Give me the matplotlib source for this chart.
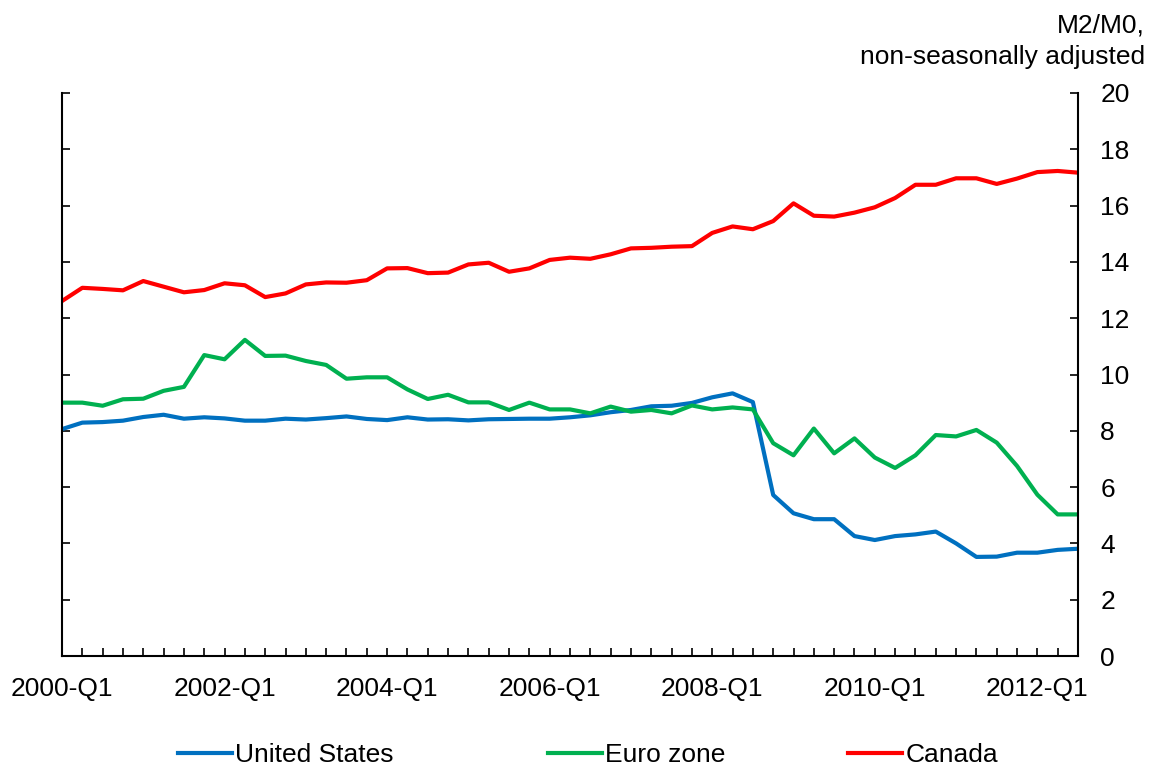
import matplotlib.pyplot as plt
import numpy as np

plt.rcParams['font.family'] = ['Liberation Sans', 'DejaVu Sans']

# quarters 2000-Q1 .. 2012-Q3
quarters = [f"{2000 + i // 4}-Q{i % 4 + 1}" for i in range(51)]

united_states = [8.06, 8.29, 8.31, 8.36, 8.49, 8.57, 8.43, 8.48, 8.44, 8.36,
                 8.36, 8.43, 8.40, 8.45, 8.51, 8.42, 8.38, 8.48, 8.40, 8.41,
                 8.37, 8.41, 8.42, 8.43, 8.43, 8.48, 8.55, 8.66, 8.74, 8.87,
                 8.89, 8.99, 9.19, 9.33, 9.02, 5.72, 5.07, 4.86, 4.86, 4.26,
                 4.12, 4.26, 4.32, 4.42, 4.00, 3.52, 3.53, 3.67, 3.67, 3.77,
                 3.81]

euro_zone = [9.00, 9.00, 8.89, 9.12, 9.14, 9.42, 9.56, 10.69, 10.54, 11.23,
             10.66, 10.67, 10.48, 10.34, 9.85, 9.90, 9.90, 9.47, 9.13, 9.28,
             9.01, 9.01, 8.74, 9.00, 8.76, 8.76, 8.62, 8.86, 8.68, 8.74,
             8.62, 8.90, 8.76, 8.83, 8.76, 7.56, 7.13, 8.08, 7.20, 7.73,
             7.05, 6.68, 7.13, 7.85, 7.80, 8.03, 7.58, 6.75, 5.73, 5.03,
             5.03]

canada = [12.61, 13.08, 13.04, 12.99, 13.32, 13.12, 12.92, 13.00, 13.24, 13.17,
          12.75, 12.88, 13.20, 13.27, 13.26, 13.35, 13.77, 13.78, 13.60, 13.62,
          13.91, 13.97, 13.65, 13.77, 14.07, 14.15, 14.11, 14.27, 14.48, 14.50,
          14.54, 14.56, 15.03, 15.26, 15.16, 15.45, 16.08, 15.64, 15.61, 15.75,
          15.94, 16.27, 16.74, 16.74, 16.97, 16.97, 16.77, 16.96, 17.19, 17.23,
          17.17]

x = np.arange(len(quarters))

fig = plt.figure(figsize=(11.52, 7.68), dpi=100)
ax = fig.add_axes([62 / 1152, 1 - 656 / 768, (1078 - 62) / 1152, (656 - 93) / 768])

lw = 3.0
l1, = ax.plot(x, united_states, color='#0070C0', lw=lw, label='United States')
l2, = ax.plot(x, euro_zone, color='#00B050', lw=lw, label='Euro zone')
l3, = ax.plot(x, canada, color='#FF0000', lw=lw, label='Canada')

ax.set_xlim(0, len(quarters) - 1)
ax.set_ylim(0, 20)
ax.set_yticks(range(0, 21, 2))
ax.set_xticks(x)
ax.set_xticklabels([q if i % 8 == 0 else '' for i, q in enumerate(quarters)])

ax.spines['top'].set_visible(False)
for s in ['left', 'right', 'bottom']:
    ax.spines[s].set_linewidth(1.5)

ax.tick_params(axis='y', direction='in', left=True, right=True,
               labelleft=False, labelright=True, length=6, width=1.2,
               labelsize=19, pad=16)
ax.tick_params(axis='x', direction='in', length=5.5, width=1.2,
               labelsize=19, pad=15)

# unit label, right aligned above the right axis
fig.text(1145 / 1152, 1 - 32 / 768, 'M2/M0,', ha='right', va='baseline', fontsize=19)
fig.text(1145 / 1152, 1 - 64 / 768, 'non-seasonally adjusted', ha='right',
         va='baseline', fontsize=19)

# legend entries placed one by one along the bottom
for h, xpos in zip([l1, l2, l3], [178, 548, 848]):
    fig.legend(handles=[h], loc='center left',
               bbox_to_anchor=(xpos / 1152, 1 - 755 / 768),
               frameon=False, fontsize=19, handlelength=2.05,
               handletextpad=0.12, borderpad=0, borderaxespad=0)

fig.savefig('out.png', dpi=100)
